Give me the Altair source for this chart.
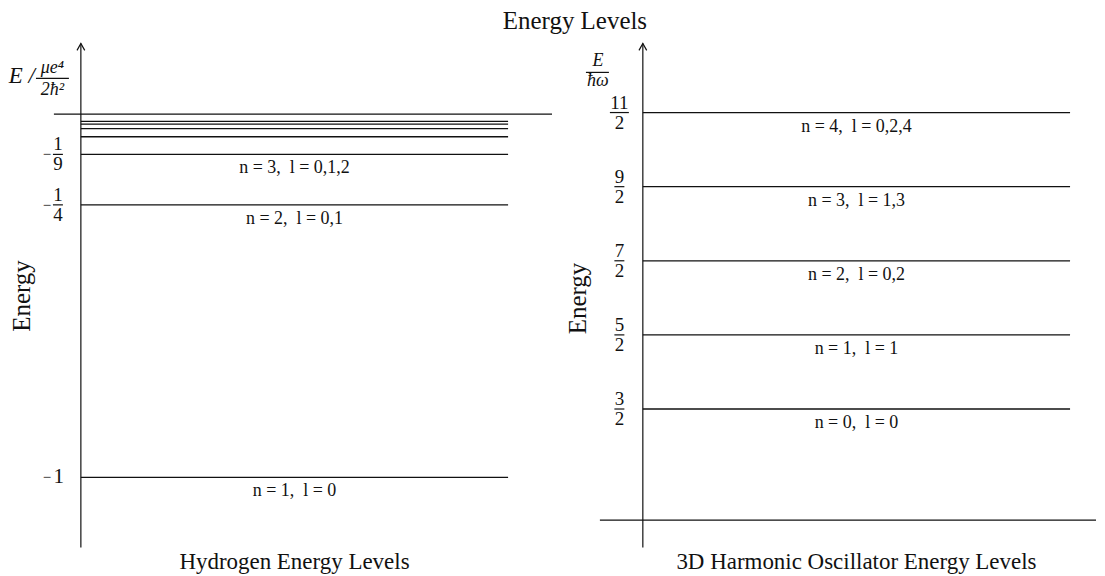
import altair as alt
import pandas as pd

# ---------------- data ----------------
# Hydrogen: E_n = -1/n^2 (in units of mu e^4 / 2 hbar^2)
h_n = [1, 2, 3, 4, 5, 6, 7]
h_energy = [-1.0, -0.25, -0.1111, -0.0625, -0.04, -0.0278, -0.0204]
h_label = ["n = 1,\u00a0\u00a0l = 0", "n = 2,\u00a0\u00a0l = 0,1",
           "n = 3,\u00a0\u00a0l = 0,1,2", "", "", "", ""]

h_plain_level = [-1.0]
h_plain_text = ["1"]
h_frac_level = [-0.25, -0.1111]
h_frac_num = ["1", "1"]
h_frac_den = ["4", "9"]

# 3D harmonic oscillator: E = (n + 3/2) hbar omega
o_n = [0, 1, 2, 3, 4]
o_energy = [1.5, 2.5, 3.5, 4.5, 5.5]
o_label = ["n = 0,\u00a0\u00a0l = 0", "n = 1,\u00a0\u00a0l = 1", "n = 2,\u00a0\u00a0l = 0,2",
           "n = 3,\u00a0\u00a0l = 1,3", "n = 4,\u00a0\u00a0l = 0,2,4"]
o_frac_num = ["3", "5", "7", "9", "11"]
o_frac_den = ["2", "2", "2", "2", "2"]

title_text = "Energy Levels"
h_title = "Hydrogen Energy Levels"
o_title = "3D Harmonic Oscillator Energy Levels"
y_title = "Energy"

# ---------------- layout / style ----------------
FONT = "Liberation Serif"
INK = "#111111"
LW, RW, H = 544, 545, 560
PX = 428.0  # pixels per unit of level-line length

hx = alt.Scale(domain=[-0.16822, 1.10280], nice=False, zero=False)
hy = alt.Scale(domain=[-1.25082, 0.28764], nice=False, zero=False)
ox = alt.Scale(domain=[-0.21262, 1.06075], nice=False, zero=False)
oy = alt.Scale(domain=[-0.65185, 6.8902], nice=False, zero=False)


def X(f, s):
    return alt.X(f"{f}:Q", scale=s, axis=None)


def Y(f, s):
    return alt.Y(f"{f}:Q", scale=s, axis=None)


def segs(df, xs, ys, width=1.3):
    return alt.Chart(df).mark_rule(color=INK, strokeWidth=width).encode(
        x=X("u", xs), x2="u2:Q", y=Y("v", ys), y2="v2:Q")


def texts(df, xs, ys, size, dy=0, angle=0, style="normal", align="center"):
    return alt.Chart(df).mark_text(font=FONT, fontSize=size, dy=dy, angle=angle,
                                   fontStyle=style, align=align, baseline="middle",
                                   color=INK).encode(
        x=X("u", xs), y=Y("v", ys), text="t:N")


def arrow(df, xs, ys):
    return alt.Chart(df).mark_point(shape="M-1,1.8L0,0L1,1.8", filled=False, size=60,
                                    strokeWidth=1.2, color=INK, opacity=1).encode(
        x=X("u", xs), y=Y("v", ys))


def frac_parts(levels, nums, dens, cu):
    bars = pd.DataFrame({
        "u": [cu - (0.5 + 4.5 * len(n)) / PX for n in nums],
        "u2": [cu + (0.5 + 4.5 * len(n)) / PX for n in nums],
        "v": levels, "v2": levels})
    num = pd.DataFrame({"u": [cu] * len(levels), "v": levels, "t": nums})
    den = pd.DataFrame({"u": [cu] * len(levels), "v": levels, "t": dens})
    return bars, num, den


# ---------------- hydrogen panel ----------------
h_levels = pd.DataFrame({"u": 0.0, "u2": 1.0, "v": h_energy, "v2": h_energy})
h_lab = pd.DataFrame({"u": 0.5, "v": h_energy, "t": h_label})
h_lab = h_lab[h_lab["t"] != ""]
h_axis = pd.DataFrame({"u": [0.0], "u2": [0.0], "v": [0.19423], "v2": [-1.19313]})
h_zero = pd.DataFrame({"u": [-0.0631], "u2": [1.1028], "v": [0.0], "v2": [0.0]})
h_arrow = pd.DataFrame({"u": [0.0], "v": [0.19423]})
h_plain = pd.DataFrame({"u": -0.0519, "v": h_plain_level, "t": h_plain_text})
h_plain_minus = pd.DataFrame({"u": -0.0794, "v": h_plain_level, "t": "\u2212"})
hb, hn, hd = frac_parts(h_frac_level, h_frac_num, h_frac_den, -0.0537)
h_minus = pd.DataFrame({"u": -0.0794, "v": h_frac_level, "t": "\u2212"})
h_unit_bar = pd.DataFrame({"u": [-0.1051], "u2": [-0.0280], "v": [0.0981], "v2": [0.0981]})
h_unit_e = pd.DataFrame({"u": [-0.1075], "v": [0.106], "t": ["E /"]})
h_unit_num = pd.DataFrame({"u": [-0.0666], "v": [0.1280], "t": ["μe⁴"]})
h_unit_den = pd.DataFrame({"u": [-0.0666], "v": [0.0665], "t": ["2ħ²"]})
h_ytitle = pd.DataFrame({"u": [-0.1379], "v": [-0.5008], "t": [y_title]})
h_bottom = pd.DataFrame({"u": [0.5], "v": [-1.2343], "t": [h_title]})

left = alt.layer(
    segs(h_axis, hx, hy, 1.2),
    arrow(h_arrow, hx, hy),
    segs(h_zero, hx, hy, 1.3),
    segs(h_levels, hx, hy, 1.3),
    texts(h_lab, hx, hy, 18, dy=14),
    texts(h_plain, hx, hy, 21),
    texts(h_plain_minus, hx, hy, 15),
    segs(hb, hx, hy, 1.2),
    texts(hn, hx, hy, 19, dy=-10),
    texts(hd, hx, hy, 19, dy=10),
    texts(h_minus, hx, hy, 15),
    segs(h_unit_bar, hx, hy, 1.2),
    texts(h_unit_e, hx, hy, 23, style="italic", align="right"),
    texts(h_unit_num, hx, hy, 18, style="italic"),
    texts(h_unit_den, hx, hy, 18, style="italic"),
    texts(h_ytitle, hx, hy, 25, angle=270),
    texts(h_bottom, hx, hy, 23),
).properties(width=LW, height=H)

# ---------------- oscillator panel ----------------
o_levels = pd.DataFrame({"u": 0.0, "u2": 1.0, "v": o_energy, "v2": o_energy})
o_lab = pd.DataFrame({"u": 0.5, "v": o_energy, "t": o_label})
o_axis = pd.DataFrame({"u": [0.0], "u2": [0.0], "v": [6.4323], "v2": [-0.36902]})
o_zero = pd.DataFrame({"u": [-0.1005], "u2": [1.06075], "v": [0.0], "v2": [0.0]})
o_arrow = pd.DataFrame({"u": [0.0], "v": [6.4323]})
ob, on, od = frac_parts(o_energy, o_frac_num, o_frac_den, -0.0549)
o_unit_bar = pd.DataFrame({"u": [-0.1332], "u2": [-0.0794], "v": [6.0418], "v2": [6.0418]})
o_unit_num = pd.DataFrame({"u": [-0.1051], "v": [6.1899], "t": ["E"]})
o_unit_den = pd.DataFrame({"u": [-0.1051], "v": [5.9205], "t": ["ħω"]})
o_ytitle = pd.DataFrame({"u": [-0.1508], "v": [2.9914], "t": [y_title]})
o_bottom = pd.DataFrame({"u": [0.5], "v": [-0.5710], "t": [o_title]})
o_main = pd.DataFrame({"u": [-0.1589], "v": [6.7286], "t": [title_text]})

right = alt.layer(
    segs(o_axis, ox, oy, 1.2),
    arrow(o_arrow, ox, oy),
    segs(o_zero, ox, oy, 1.3),
    segs(o_levels, ox, oy, 1.3),
    texts(o_lab, ox, oy, 18, dy=14),
    segs(ob, ox, oy, 1.2),
    texts(on, ox, oy, 19, dy=-10),
    texts(od, ox, oy, 19, dy=10),
    segs(o_unit_bar, ox, oy, 1.2),
    texts(o_unit_num, ox, oy, 18, style="italic"),
    texts(o_unit_den, ox, oy, 18, style="italic"),
    texts(o_ytitle, ox, oy, 25, angle=270),
    texts(o_bottom, ox, oy, 23),
    texts(o_main, ox, oy, 25),
).properties(width=RW, height=H)

chart = alt.hconcat(left, right, spacing=0, bounds="flush").resolve_scale(
    x="independent", y="independent"
).properties(padding=0).configure_view(stroke=None)

chart.save("out.html", embed_options={"renderer": "svg", "actions": False})
